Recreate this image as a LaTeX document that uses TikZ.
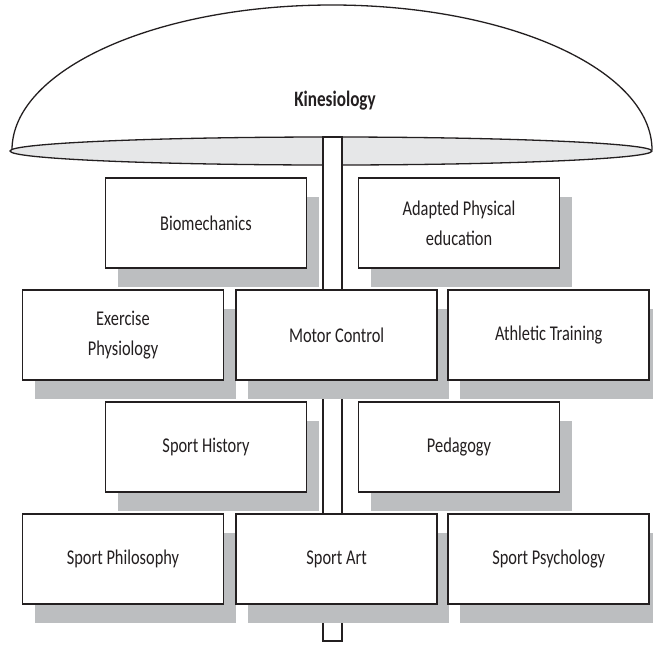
\documentclass[tikz,border=0pt]{standalone}
\usepackage{fontspec}
\setmainfont[FakeStretch=0.78]{Carlito}
\usepackage{tikz}
\usetikzlibrary{positioning,shadows}

\definecolor{rimgray}{HTML}{E6E7E8}
\definecolor{shadegray}{HTML}{BCBEC0}
\definecolor{inkdark}{HTML}{231F20}

\begin{document}
\begin{tikzpicture}[x=1pt,y=-1pt,node distance=13pt]
\tikzstyle{field}=[draw=inkdark, line width=1.6pt, fill=white, text=inkdark,
	minimum width=201pt, minimum height=90pt, align=center, font=\fontsize{21}{30}\selectfont,
	drop shadow={shadow xshift=12pt, shadow yshift=-19pt, fill=shadegray, opacity=1}]
\useasboundingbox (0,0) rectangle (653,646);

	% umbrella
	\draw[line width=1.3pt, inkdark] (12,150) arc[start angle=180, end angle=360, x radius=320, y radius=145];
	\draw[line width=1.3pt, inkdark, fill=rimgray] (331,151) ellipse[x radius=321, y radius=14];
	\node[text=inkdark, font=\bfseries\fontsize{22}{26}\selectfont] (kin) at (335,101) {Kinesiology};

	% stem
	\draw[line width=1.3pt, inkdark, fill=white] (323,137) rectangle (342,641);

	% first row
	\node[field] (biomech) at (206,223) {Biomechanics};
	\node[field] (adapted) at (459,223) {Adapted Physical\\education};

	% second row
	\node[field] (exphys) at (123,335) {Exercise\\Physiology};
	\node[field, right=11pt of exphys] (motor) {Motor Control};
	\node[field, right=9.5pt of motor] (athletic) {Athletic Training};

	% third row
	\node[field] (history) at (206,447) {Sport History};
	\node[field] (pedagogy) at (459,447) {Pedagogy};

	% fourth row
	\node[field] (philosophy) at (123,559) {Sport Philosophy};
	\node[field, right=11pt of philosophy] (art) {Sport Art};
	\node[field, right=9.5pt of art] (psychology) {Sport Psychology};

\end{tikzpicture}
\end{document}
